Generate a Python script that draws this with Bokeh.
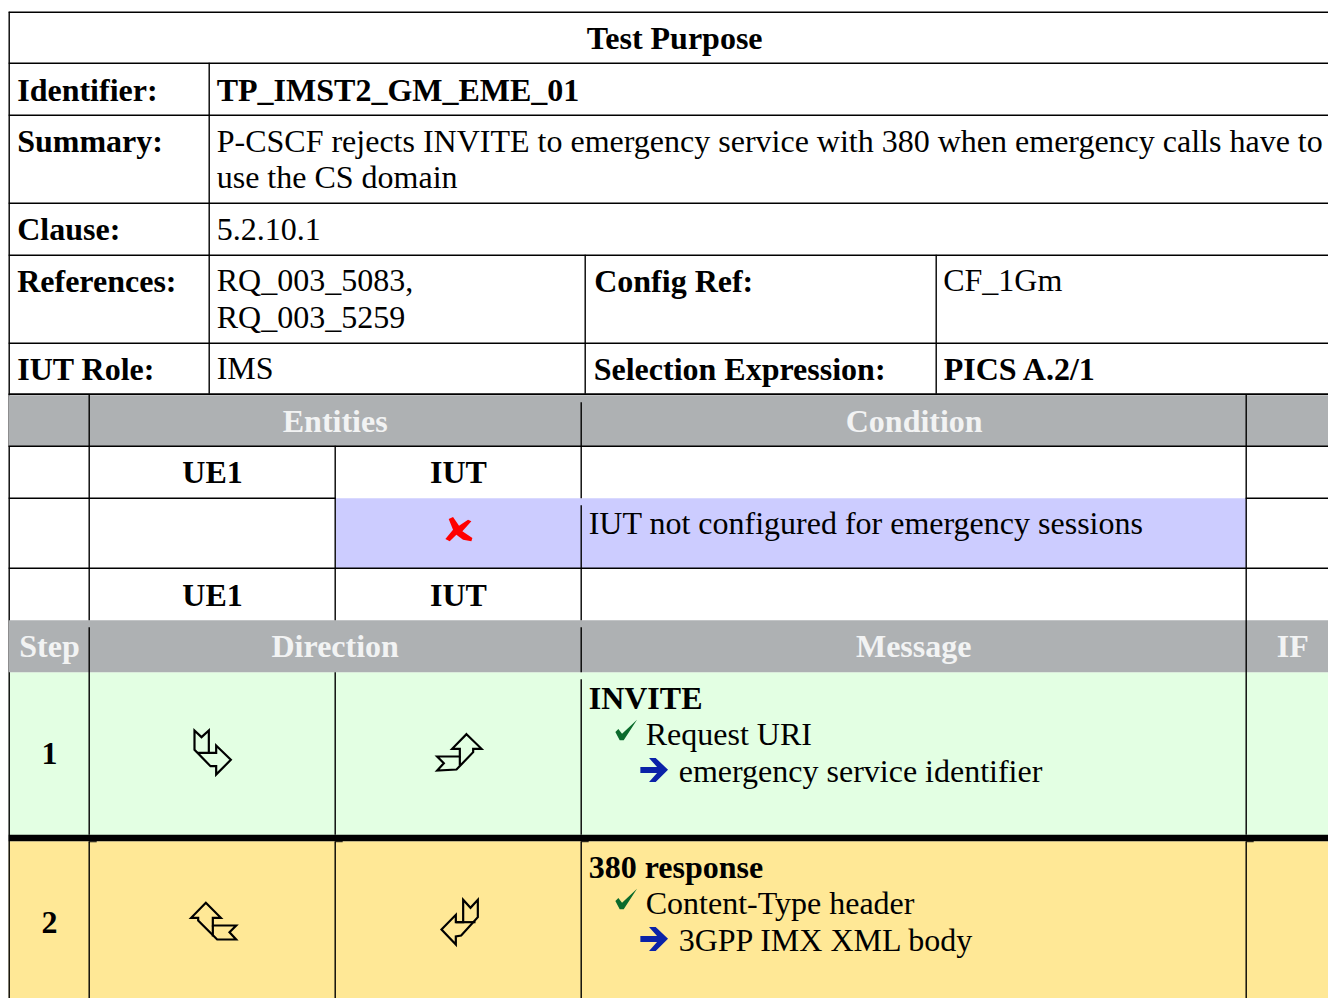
from bokeh.plotting import figure
from bokeh.embed import file_html
from bokeh.resources import INLINE
from bokeh.core.properties import value

# ---- table content ----
title = "Test Purpose"
labels = ["Identifier:", "Summary:", "Clause:", "References:", "IUT Role:"]
identifier = "TP_IMST2_GM_EME_01"
summary_1 = "P-CSCF rejects INVITE to emergency service with 380 when emergency calls have to"
summary_2 = "use the CS domain"
clause = "5.2.10.1"
references = ["RQ_003_5083,", "RQ_003_5259"]
config_label = "Config Ref:"
config_value = "CF_1Gm"
role = "IMS"
selection_label = "Selection Expression:"
selection_value = "PICS A.2/1"
head_1 = ["Entities", "Condition"]
entities = ["UE1", "IUT"]
condition = "IUT not configured for emergency sessions"
head_2 = ["Step", "Direction", "Message", "IF"]
steps = ["1", "2"]
messages = ["INVITE", "380 response"]
checks = ["Request URI", "Content-Type header"]
details = ["emergency service identifier", "3GPP IMX XML body"]

# ---- layout in page pixels ----
W, H = 1328, 998
OFF = 0.8
FONT = value("Liberation Serif")
p = figure(width=W, height=H, x_range=(OFF, W + OFF), y_range=(H + OFF, OFF),
           output_backend="svg", toolbar_location=None, min_border=0,
           outline_line_color=None, background_fill_color="white")
p.axis.visible = False
p.grid.visible = False

GRAY, GREEN, YEL, BLUE = "#aeb1b3", "#e3ffe3", "#ffe896", "#ccccff"
R = 1331
TEXT_DY = -10.7

def box(x0, x1, y0, y1, c):
    p.quad(left=x0, right=x1, top=y0, bottom=y1, fill_color=c, line_color=None)

def hl(y, x0=9, x1=R, w=1.4):
    p.segment(x0, y, x1, y, line_color="black", line_width=w)

def vl(x, y0, y1, w=1.4):
    p.segment(x, y0, x, y1, line_color="black", line_width=w)

def txt(x, y, s, bold=False, color="#000000", align="left", size="32px"):
    p.text([x], [y + TEXT_DY], text=[s], text_font=FONT, text_font_size=size,
           text_font_style="bold" if bold else "normal", text_color=color,
           text_align=align, text_baseline="alphabetic")

def poly(points, fill, line=None, w=1.0):
    p.patch([q[0] for q in points], [q[1] for q in points], fill_color=fill,
            line_color=line, line_width=w, line_join="miter")

# fills
box(336, 1246.5, 498.5, 569, BLUE)
box(9, R, 672.5, 835.5, GREEN)
box(9, R, 841.5, 1000, YEL)

# rules
for y in [12.5, 63.5, 115.5, 203.5, 255.5, 343.5, 394.5, 446.5, 568.5]:
    hl(y)
hl(498.5, 9, 336)
hl(498.5, 1246, R)
vl(9.5, 12, 1000)
vl(209.5, 63, 394)
vl(585.5, 255, 394)
vl(936.5, 255, 394)

# header bands
box(9, R, 395.5, 446.5, GRAY)
box(9, R, 620.5, 672.5, GRAY)
vl(89.5, 395, 620.5); vl(89.5, 627.5, 835)
vl(335.5, 446, 620.5); vl(335.5, 672.5, 835)
vl(581.5, 402.5, 498.5); vl(581.5, 505.5, 620.5); vl(581.5, 627.5, 672.5); vl(581.5, 679.5, 835)
vl(1246.5, 395, 835)
hl(446.5); hl(394.5)

# thick rule and below
p.quad(left=9, right=R, top=835, bottom=841.5, fill_color="black", line_color=None)
for x in [89, 335, 581, 1246]:
    p.quad(left=x, right=x + 8, top=841.5, bottom=842.5, fill_color="black", line_color=None)
    vl(x + 0.5, 842, 1000)

# texts
txt(675, 49, title, True, align="center")
for s, y in zip(labels, [101, 152, 240, 292, 380]):
    txt(17.5, y, s, True)
txt(217, 101, identifier, True)
txt(217, 152, summary_1)
txt(217, 188, summary_2)
txt(217, 240, clause)
txt(217, 291, references[0]); txt(217, 328, references[1])
txt(594.5, 292, config_label, True)
txt(943.5, 291, config_value)
txt(217, 379, role)
txt(594, 380, selection_label, True)
txt(944, 380, selection_value, True)

WHITE = "#f2f3f3"
txt(335.5, 432, head_1[0], True, WHITE, "center")
txt(914.5, 432, head_1[1], True, WHITE, "center")
for y in [483, 606]:
    txt(212.8, y, entities[0], True, align="center")
    txt(458.8, y, entities[1], True, align="center")
txt(589, 534, condition)
txt(49.8, 657, head_2[0], True, WHITE, "center")
txt(335.5, 657, head_2[1], True, WHITE, "center")
txt(914, 657, head_2[2], True, WHITE, "center")
txt(1293, 657, head_2[3], True, WHITE, "center")

for i, dy in enumerate([0, 169]):
    txt(49.8, 764 + dy, steps[i], True, align="center")
    txt(589, 709 + dy, messages[i], True)
    txt(646, 745 + dy, checks[i])
    txt(679, 782 + dy, details[i])
    # check mark
    ck = [(137, 187), (146, 178), (157, 192), (202, 150), (162, 212), (150, 212)]
    poly([(570 + a / 3, 670 + dy + b / 3) for a, b in ck], "#0b6b2c")
    # blue arrow
    ar = [(238, 265), (258, 265), (295, 300), (258, 337), (238, 337), (262, 310),
          (212, 310), (212, 292), (262, 292)]
    poly([(570 + a / 3, 670 + dy + b / 3) for a, b in ar], "#0a22a8")

# red cross
cross = [(147, 118), (160, 112), (178, 138), (205, 120), (215, 125), (188, 155),
         (218, 175), (215, 185), (190, 180), (170, 165), (150, 185), (137, 178), (160, 150)]
poly([(400 + a / 3, 480 + b / 3) for a, b in cross], "#ff0000")

# direction arrows: outline + inner stroke, traced on a 3x grid
icons = [
    ([(132, 90), (153, 110), (175, 90), (175, 157), (197, 157), (197, 135), (241, 178),
      (197, 222), (197, 197), (180, 197), (132, 148)], [(140, 157), (175, 157)]),
    ([(948, 101), (993, 145), (968, 145), (968, 155), (918, 207), (860, 210), (880, 188),
      (860, 168), (928, 168), (928, 145), (905, 145)], [(928, 168), (928, 195)]),
    ([(166, 607), (211, 652), (187, 652), (187, 675), (257, 675), (237, 695), (257, 717),
      (200, 717), (143, 660), (143, 652), (122, 652)], [(187, 675), (187, 708)]),
    ([(938, 598), (960, 622), (982, 598), (982, 650), (932, 705), (916, 708), (916, 732),
      (873, 687), (916, 643), (916, 665), (938, 665)], [(916, 665), (975, 665)]),
]
for outline, inner in icons:
    poly([(150 + a / 3 + 0.8, 700 + b / 3 + 0.8) for a, b in outline], None, "#000000", 2.2)
    p.line([150 + a / 3 + 0.8 for a, b in inner], [700 + b / 3 + 0.8 for a, b in inner],
           line_color="black", line_width=2.2)

open("out.html", "w").write(file_html(p, INLINE))
